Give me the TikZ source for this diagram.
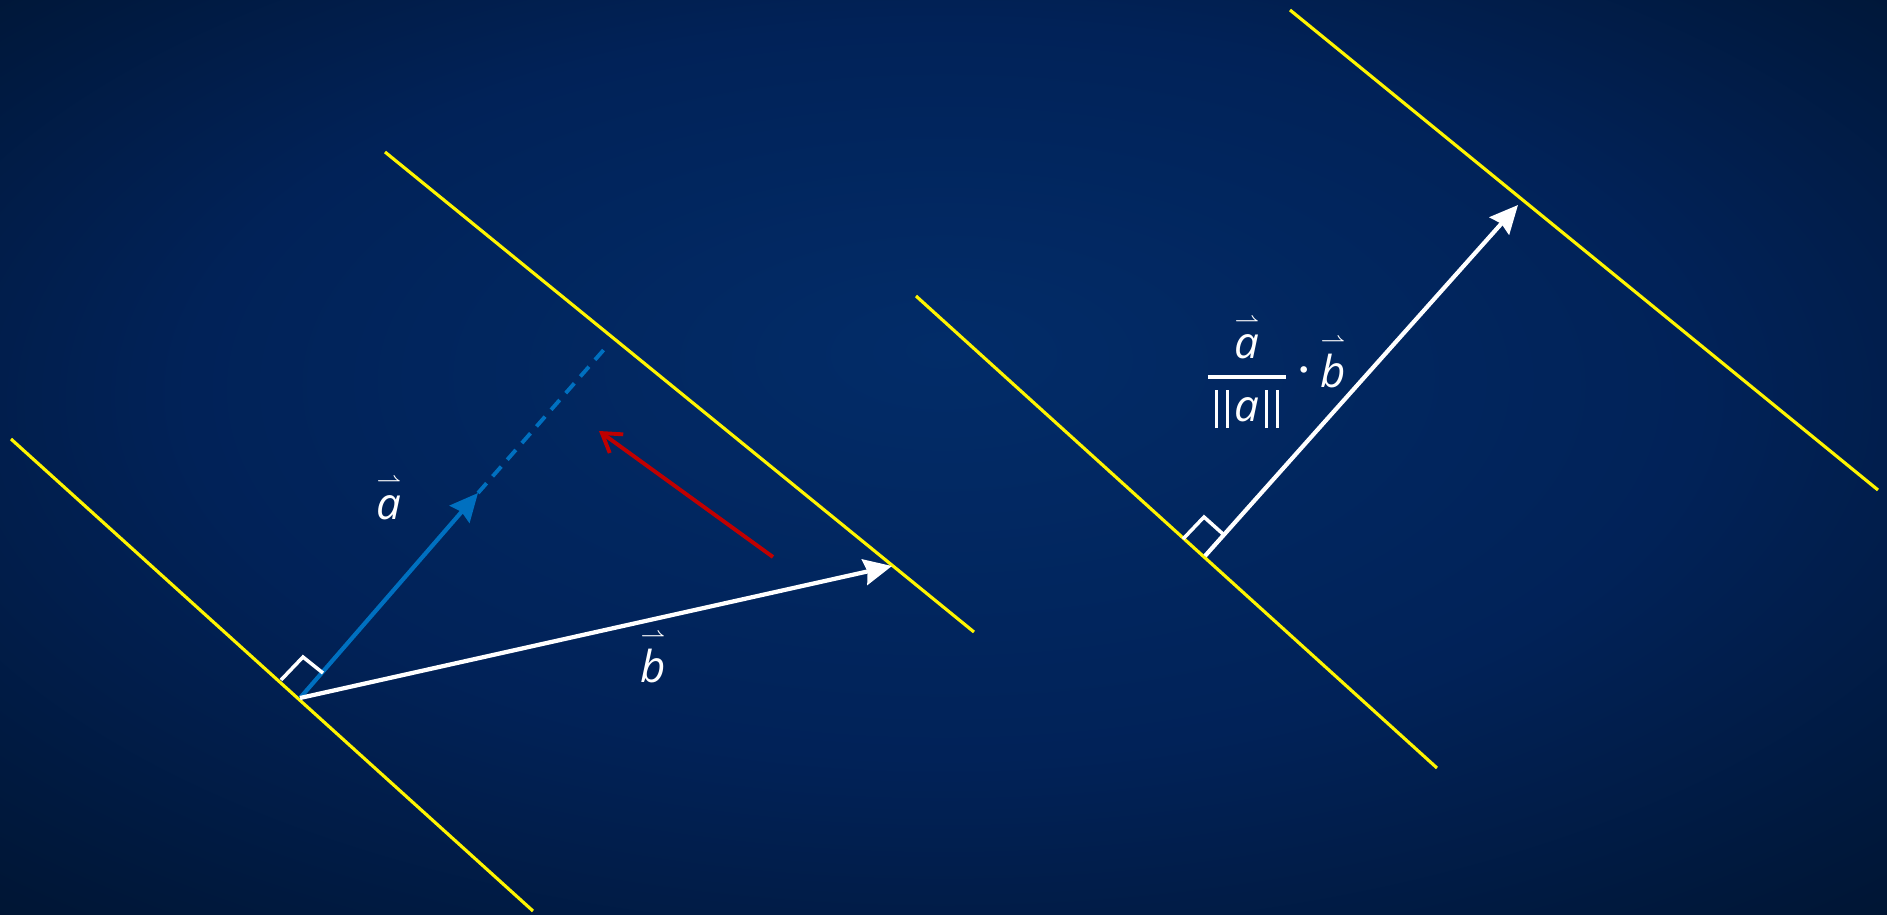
\documentclass[tikz,border=0pt]{standalone}
\usepackage{amsmath}
\usepackage{fontspec}
\setmainfont{Open Sans}
\usepackage{xcolor}
\usetikzlibrary{arrows.meta}
\definecolor{bgin}{HTML}{022C68}
\definecolor{bgmid}{HTML}{012258}
\definecolor{bgout}{HTML}{001533}
\definecolor{plane}{HTML}{FFF500}
\definecolor{vblue}{HTML}{0070C0}
\definecolor{vred}{HTML}{C00000}
\pgfdeclareradialshading{bgshade}{\pgfpoint{0bp}{6bp}}{color(0bp)=(bgin); color(20bp)=(bgmid); color(37bp)=(bgout); color(50bp)=(bgout)}
\newcommand{\hvec}[1]{\overset{\scriptscriptstyle\rightharpoonup}{\textit{#1}}}
\newcommand{\nbar}{\rule[-2pt]{0.85pt}{10.8pt}}
\newcommand{\nrm}[1]{\text{\kern2pt\nbar\kern2.2pt\nbar\kern1.6pt\textit{#1}\kern1.8pt\nbar\kern2.2pt\nbar\kern2pt}}

\begin{document}
\begin{tikzpicture}[x=0.01cm,y=-0.01cm]
\tikzset{
  pl/.style={draw=plane,line width=0.9pt},
  ar/.style={-{Stealth[length=2.8mm,width=2.6mm,inset=0.3mm]},line width=1.2pt},
  ra/.style={draw=white,line width=1pt},
  lb/.style={text=white,inner sep=0pt,font=\fontsize{12.5}{14}\selectfont}
}
\shade[shading=bgshade] (0,0) rectangle (1887,915);
\useasboundingbox (0,0) rectangle (1887,915);
% planes
\coordinate (p1a) at (11,439);   \coordinate (p1b) at (533,911);
\coordinate (p2a) at (385,152);  \coordinate (p2b) at (974,632);
\coordinate (p3a) at (916,296);  \coordinate (p3b) at (1437,768);
\coordinate (p4a) at (1290,10);  \coordinate (p4b) at (1878,490);
\draw[pl] (p1a) -- (p1b);
\draw[pl] (p2a) -- (p2b);
\draw[pl] (p3a) -- (p3b);
\draw[pl] (p4a) -- (p4b);
% left: a and b
\coordinate (o) at (300,698);
\coordinate (at) at (478,493);
\coordinate (ae) at (608,345);
\coordinate (bt) at (892,566);
\draw[ar,draw=vblue,fill=vblue] (o) -- (at);
\draw[vblue,line width=1.1pt,dash pattern=on 3.7pt off 2.6pt] (at) -- (ae);
\draw[ar,draw=white,fill=white] (o) -- (bt);
\draw[ra] (281,680) -- (303,657) -- (323,673);
\coordinate (rs) at (773,557);
\coordinate (re) at (599,431);
\draw[vred,line width=1.1pt,-{Straight Barb[length=1.8mm,width=2.3mm]}] (rs) -- (re);
\node[lb] (la) at (389,497) {$\hvec{a}$};
\node[lb] (lbb) at (653,656) {$\hvec{b}$};
% right: projection
\coordinate (q) at (1205,556);
\coordinate (qt) at (1518,205);
\draw[ar,draw=white,fill=white] (q) -- (qt);
\draw[ra] (1183,539) -- (1204,517) -- (1223,534);
\node[lb] (frac) at (1247,371) {$\genfrac{}{}{1.1pt}{0}{\hvec{a}}{\nrm{a}}$};
\node[lb] (dot) at (1304,371) {$\boldsymbol{\cdot}$};
\node[lb] (pb) at (1333,361) {$\hvec{b}$};
\end{tikzpicture}
\end{document}
